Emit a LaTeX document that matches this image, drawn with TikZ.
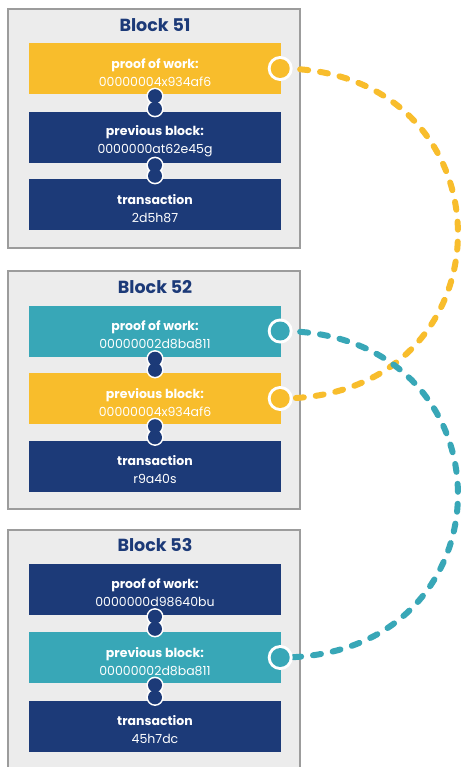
\documentclass[tikz,border=0pt]{standalone}
\usepackage{fontspec}
\setmainfont{Poppins}
\usetikzlibrary{calc}
\definecolor{navy}{HTML}{1C3A78}
\definecolor{gold}{HTML}{F8BD2C}
\definecolor{teal}{HTML}{38A7B7}
\definecolor{boxgray}{HTML}{ECECEC}
\definecolor{bordergray}{HTML}{9C9C9C}
\tikzset{
  blockbox/.style={draw=bordergray, line width=2.5pt, fill=boxgray, minimum width=292pt, inner sep=0pt},
  title/.style={text=navy, font=\bfseries\fontsize{17.5}{20}\selectfont, inner sep=0pt},
  bar/.style={minimum width=252pt, minimum height=51pt, inner sep=0pt, align=center, text=white,
    font=\fontsize{12.5}{18}\selectfont},
  chain/.style={line width=6pt, line cap=round, dash pattern=on 8pt off 12pt},
}
\newcommand{\lbl}[1]{\rule{0pt}{18pt}\textbf{#1}}
\newcommand{\linkeight}[2]{%
  \fill[white] ($(#1)+(0,2)$) circle (8.6);
  \fill[white] ($(#2)+(0,-3)$) circle (8.6);
  \fill[navy] ($(#1)+(0,2)$) circle (7);
  \fill[navy] ($(#2)+(0,-3)$) circle (7);
  \fill[navy] ($(#1)+(-2.5,2)$) rectangle ($(#2)+(2.5,-3)$);
}
\newcommand{\knob}[2]{%
  \fill[white] ($(#1)+(-1,0)$) circle (12.5);
  \fill[#2] ($(#1)+(-1,0)$) circle (9.5);
}
\begin{document}
\begin{tikzpicture}[x=1pt,y=-1pt]
\useasboundingbox (0,0) rectangle (461,767);
\fill[white] (0,0) rectangle (461,767);

% boxes
\node[blockbox, minimum height=239pt] (box51) at (154,128.5) {};
\node[blockbox, minimum height=238pt] (box52) at (154,390) {};
\node[blockbox, minimum height=241pt] (box53) at (154,650.5) {};

\node[title] (t51) at (155,25) {Block 51};
\node[title] (t52) at (155,287) {Block 52};
\node[title] (t53) at (155,545) {Block 53};

% bars block 51
\node[bar, fill=gold] (p51) at (155,68.5) {\lbl{proof of work:}\\00000004x934af6};
\node[bar, fill=navy] (v51) at (155,137.5) {\lbl{previous block:}\\0000000at62e45g};
\node[bar, fill=navy] (x51) at (155,204.5) {\lbl{transaction}\\2d5h87};
% bars block 52
\node[bar, fill=teal] (p52) at (155,331) {\lbl{proof of work:}\\00000002d8ba811};
\node[bar, fill=gold] (v52) at (155,398.5) {\lbl{previous block:}\\00000004x934af6};
\node[bar, fill=navy] (x52) at (155,466) {\lbl{transaction}\\r9a40s};
% bars block 53
\node[bar, fill=navy] (p53) at (155,589) {\lbl{proof of work:}\\0000000d98640bu};
\node[bar, fill=teal] (v53) at (155,657.5) {\lbl{previous block:}\\00000002d8ba811};
\node[bar, fill=navy] (x53) at (155,726) {\lbl{transaction}\\45h7dc};

% links
\linkeight{p51.south}{v51.north}
\linkeight{v51.south}{x51.north}
\linkeight{p52.south}{v52.north}
\linkeight{v52.south}{x52.north}
\linkeight{p53.south}{v53.north}
\linkeight{v53.south}{x53.north}

% curves
\draw[chain, gold] ($(p51.east)+(-1,0)$) .. controls +(237,0) and +(237,0) .. ($(v52.east)+(-1,0)$);
\draw[chain, teal] ($(p52.east)+(-1,0)$) .. controls +(237,0) and +(237,0) .. ($(v53.east)+(-1,0)$);

% knobs
\knob{p51.east}{gold}
\knob{v52.east}{gold}
\knob{p52.east}{teal}
\knob{v53.east}{teal}
\end{tikzpicture}
\end{document}
